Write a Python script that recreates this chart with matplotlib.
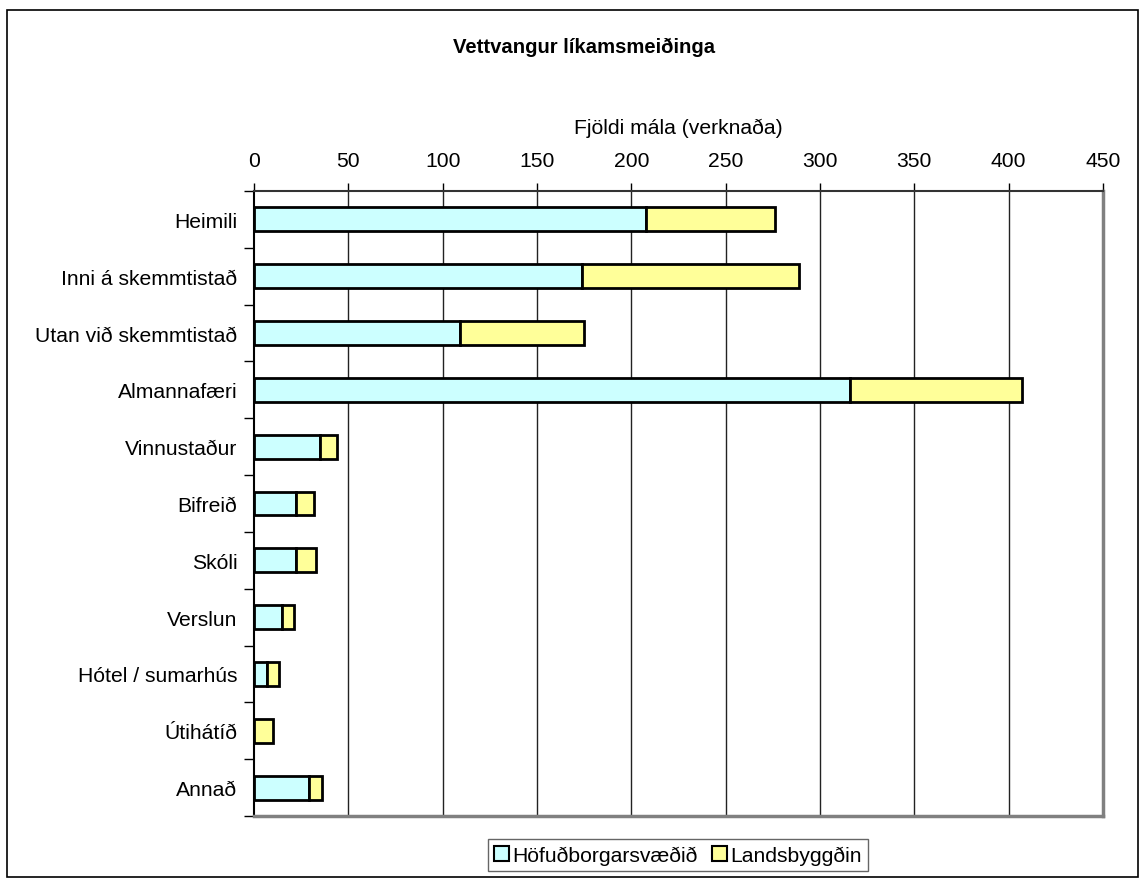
import matplotlib
matplotlib.use("Agg")
import matplotlib.pyplot as plt
from matplotlib.patches import Rectangle, Patch
import numpy as np

plt.rcParams['font.family'] = ['Liberation Sans', 'DejaVu Sans']

categories = ["Heimili", "Inni á skemmtistað", "Utan við skemmtistað", "Almannafæri",
              "Vinnustaður", "Bifreið", "Skóli", "Verslun", "Hótel / sumarhús",
              "Útihátíð", "Annað"]
hofud = [208, 174, 109, 316, 35, 22, 22, 15, 7, 0, 29]
lands = [68, 115, 66, 91, 9, 10, 11, 6, 6, 10, 7]
series_names = ["Höfuðborgarsvæðið", "Landsbyggðin"]
xticks = [0, 50, 100, 150, 200, 250, 300, 350, 400, 450]

c1 = "#CCFFFF"
c2 = "#FFFF99"
FS = 15.2

fig = plt.figure(figsize=(11.39, 8.79), dpi=100)
ax = fig.add_axes([254/1139, 1-817/879, (1103-254)/1139, (817-192)/879])
ax.set_facecolor('none')

y = np.arange(len(categories))
ax.barh(y, hofud, height=0.42, color=c1, edgecolor='black', linewidth=2, zorder=3)
ax.barh(y, lands, left=hofud, height=0.42, color=c2, edgecolor='black', linewidth=2, zorder=3)

ax.set_xlim(0, 450)
ax.set_ylim(len(categories) - 0.5, -0.5)
ax.xaxis.tick_top()
ax.xaxis.set_label_position('top')
ax.set_xticks(xticks)
ax.set_xticklabels([str(t) for t in xticks], fontsize=FS)
ax.tick_params(axis='x', direction='out', length=6, width=1, color='black', pad=9)
ax.set_xlabel("Fjöldi mála (verknaða)", fontsize=FS, labelpad=13)

ax.set_yticks(y)
ax.set_yticklabels(categories, fontsize=FS)
ax.tick_params(axis='y', which='major', length=0, pad=12)
ax.set_yticks(np.arange(len(categories) + 1) - 0.5, minor=True)
ax.tick_params(axis='y', which='minor', direction='out', length=7, width=1, color='black')

for xv in xticks[1:-1]:
    ax.axvline(xv, color='#222222', linewidth=1, zorder=1)

ax.spines['left'].set_color('black')
ax.spines['left'].set_linewidth(1.5)
ax.spines['top'].set_color('#333333')
ax.spines['top'].set_linewidth(1.5)
ax.spines['right'].set_color('#808080')
ax.spines['right'].set_linewidth(2.5)
ax.spines['bottom'].set_color('#808080')
ax.spines['bottom'].set_linewidth(2.5)

fig.text(584/1139, 1 - 47/879, "Vettvangur líkamsmeiðinga",
         ha='center', va='center', fontsize=14.6, fontweight='bold')

handles = [Patch(facecolor=c1, edgecolor='black', linewidth=1.5),
           Patch(facecolor=c2, edgecolor='black', linewidth=1.5)]
leg = fig.legend(handles, series_names, loc='center', bbox_to_anchor=(678/1139, 1 - 856/879),
                 ncol=2, fontsize=FS, frameon=True, fancybox=False, handlelength=0.7,
                 handleheight=0.7, handletextpad=0.15, columnspacing=0.7, borderpad=0.3)
leg.get_frame().set_edgecolor('#404040')
leg.get_frame().set_linewidth(1)

fig.patches.append(Rectangle((7/1139, 0.001), 1 - 7/1139 - 0.001, 1 - 11/879 - 0.001,
                             transform=fig.transFigure, fill=False, edgecolor='black',
                             linewidth=1.2, zorder=10))

fig.savefig("out.png", dpi=100)
